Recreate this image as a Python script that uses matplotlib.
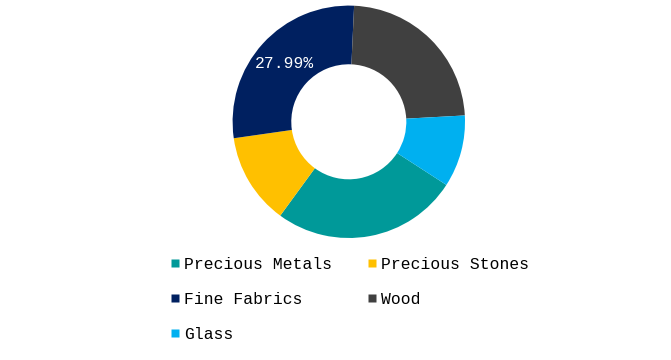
import matplotlib.pyplot as plt
import numpy as np
from matplotlib.lines import Line2D

categories = ['Precious Metals', 'Precious Stones', 'Fine Fabrics', 'Wood', 'Glass']
shares = [25.9, 12.7, 27.99, 23.4, 10.01]
colors = ['#009999', '#FFC000', '#002060', '#404040', '#00B0F0']
shown_label = 'Fine Fabrics'

plt.rcParams['font.family'] = ['Liberation Mono', 'DejaVu Sans Mono']

fig = plt.figure(figsize=(6.71, 3.6), dpi=100)
# pie area: centre (348.8, 121.8) px, radius 116.2 px
cx, cy, r = 348.8, 121.8, 116.2
ax = fig.add_axes([(cx - r) / 671, (360 - cy - r) / 360, 2 * r / 671, 2 * r / 360])

wedges, _ = ax.pie(shares, colors=colors, startangle=-32.9, counterclock=False,
                   wedgeprops=dict(width=0.505, edgecolor='none'))
ax.set_xlim(-1, 1)
ax.set_ylim(-1, 1)
ax.set_aspect('equal')
ax.axis('off')

# only the Fine Fabrics slice carries a label
for w, name, val in zip(wedges, categories, shares):
    if name != shown_label:
        continue
    mid = np.deg2rad((w.theta1 + w.theta2) / 2)
    rr = 1 - 0.505 / 2
    ax.text(rr * np.cos(mid), rr * np.sin(mid), '{:.2f}%'.format(val),
            color='white', fontsize=11.8, ha='center', va='center')

handles = [Line2D([], [], linestyle='none', marker='s', markersize=5.8,
                  markerfacecolor=c, markeredgecolor='none') for c in colors]
# legend fills column by column, so reorder to read row by row
order = [0, 2, 4, 1, 3]
fig.legend([handles[i] for i in order], [categories[i] for i in order],
           loc='upper left', bbox_to_anchor=(169 / 671, 1 - 257 / 360),
           ncol=2, frameon=False, fontsize=11.8, handlelength=0.7, handletextpad=0.2,
           columnspacing=2.1, labelspacing=1.22, borderpad=0, borderaxespad=0)

fig.savefig('out.png', dpi=100)
